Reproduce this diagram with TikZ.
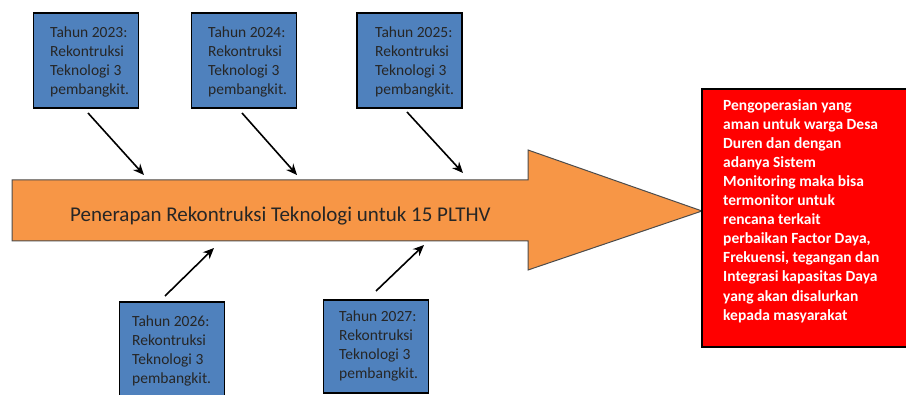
\documentclass[tikz,border=0pt]{standalone}
\usepackage{fontspec}
\setmainfont{Carlito}
\usetikzlibrary{arrows.meta}
\definecolor{boxblue}{HTML}{4F81BD}
\definecolor{arroworange}{HTML}{F79646}
\definecolor{boxred}{HTML}{FF0000}
\begin{document}
\begin{tikzpicture}[x=1pt,y=-1pt,
  bluebox/.style={draw=black, line width=1.6pt, fill=boxblue, inner sep=0pt, minimum width=105pt},
  btext/.style={anchor=north west, inner sep=0pt, align=left, font=\fontsize{15.5}{19}\selectfont, text=black!85},
  rtext/.style={anchor=north west, inner sep=0pt, align=left, font=\fontsize{15.5}{19.1}\selectfont\bfseries, text=white},
  timearrow/.style={line width=1.6pt, -{Stealth[length=11pt,width=9.5pt]}},
  bigarrow/.style={draw=black!70, line width=1pt, fill=arroworange}
]
\useasboundingbox (0,0) rectangle (906,395);
\clip (0,0) rectangle (906,395);

% main arrow
\draw[bigarrow] (12,180) -- (528,180) -- (528,150) -- (702,211) -- (528,270) -- (528,241) -- (12,241) -- cycle;
\node[anchor=base west, inner sep=0pt, font=\fontsize{21}{25}\selectfont, text=black!85] (main) at (70,222) {Penerapan Rekontruksi Teknologi untuk 15 PLTHV};

% top boxes
\node[bluebox, minimum height=95pt] (b1) at (86,60.5) {};
\node[bluebox, minimum height=95pt] (b2) at (244,60.5) {};
\node[bluebox, minimum height=95pt] (b3) at (409.5,60.5) {};
\node[btext] (t1) at (50,27) {Tahun 2023:\\Rekontruksi\\Teknologi 3\\pembangkit.};
\node[btext] (t2) at (208,27) {Tahun 2024:\\Rekontruksi\\Teknologi 3\\pembangkit.};
\node[btext] (t3) at (375,27) {Tahun 2025:\\Rekontruksi\\Teknologi 3\\pembangkit.};

% bottom boxes
\node[bluebox, minimum height=100pt] (b4) at (172,352) {};
\node[bluebox, minimum height=93pt] (b5) at (376,346.5) {};
\node[btext] (t4) at (132,316) {Tahun 2026:\\Rekontruksi\\Teknologi 3\\pembangkit.};
\node[btext] (t5) at (339,311) {Tahun 2027:\\Rekontruksi\\Teknologi 3\\pembangkit.};

% red box
\node[draw=black, line width=1.6pt, fill=boxred, minimum width=206pt, minimum height=258pt, inner sep=0pt] (res) at (805,218) {};
\node[rtext] (rt) at (723,99) {Pengoperasian yang\\aman untuk warga Desa\\Duren dan dengan\\adanya Sistem\\Monitoring maka bisa\\termonitor untuk\\rencana terkait\\perbaikan Factor Daya,\\Frekuensi, tegangan dan\\Integrasi kapasitas Daya\\yang akan disalurkan\\kepada masyarakat};

% connectors
\coordinate (a1s) at (88,113);  \coordinate (a1e) at (144,175);
\coordinate (a2s) at (242,113); \coordinate (a2e) at (297,175);
\coordinate (a3s) at (407,112); \coordinate (a3e) at (463,173);
\coordinate (a4s) at (165,296); \coordinate (a4e) at (214,248);
\coordinate (a5s) at (376,291); \coordinate (a5e) at (424,245);
\draw[timearrow] (a1s) -- (a1e);
\draw[timearrow] (a2s) -- (a2e);
\draw[timearrow] (a3s) -- (a3e);
\draw[timearrow] (a4s) -- (a4e);
\draw[timearrow] (a5s) -- (a5e);
\end{tikzpicture}
\end{document}
